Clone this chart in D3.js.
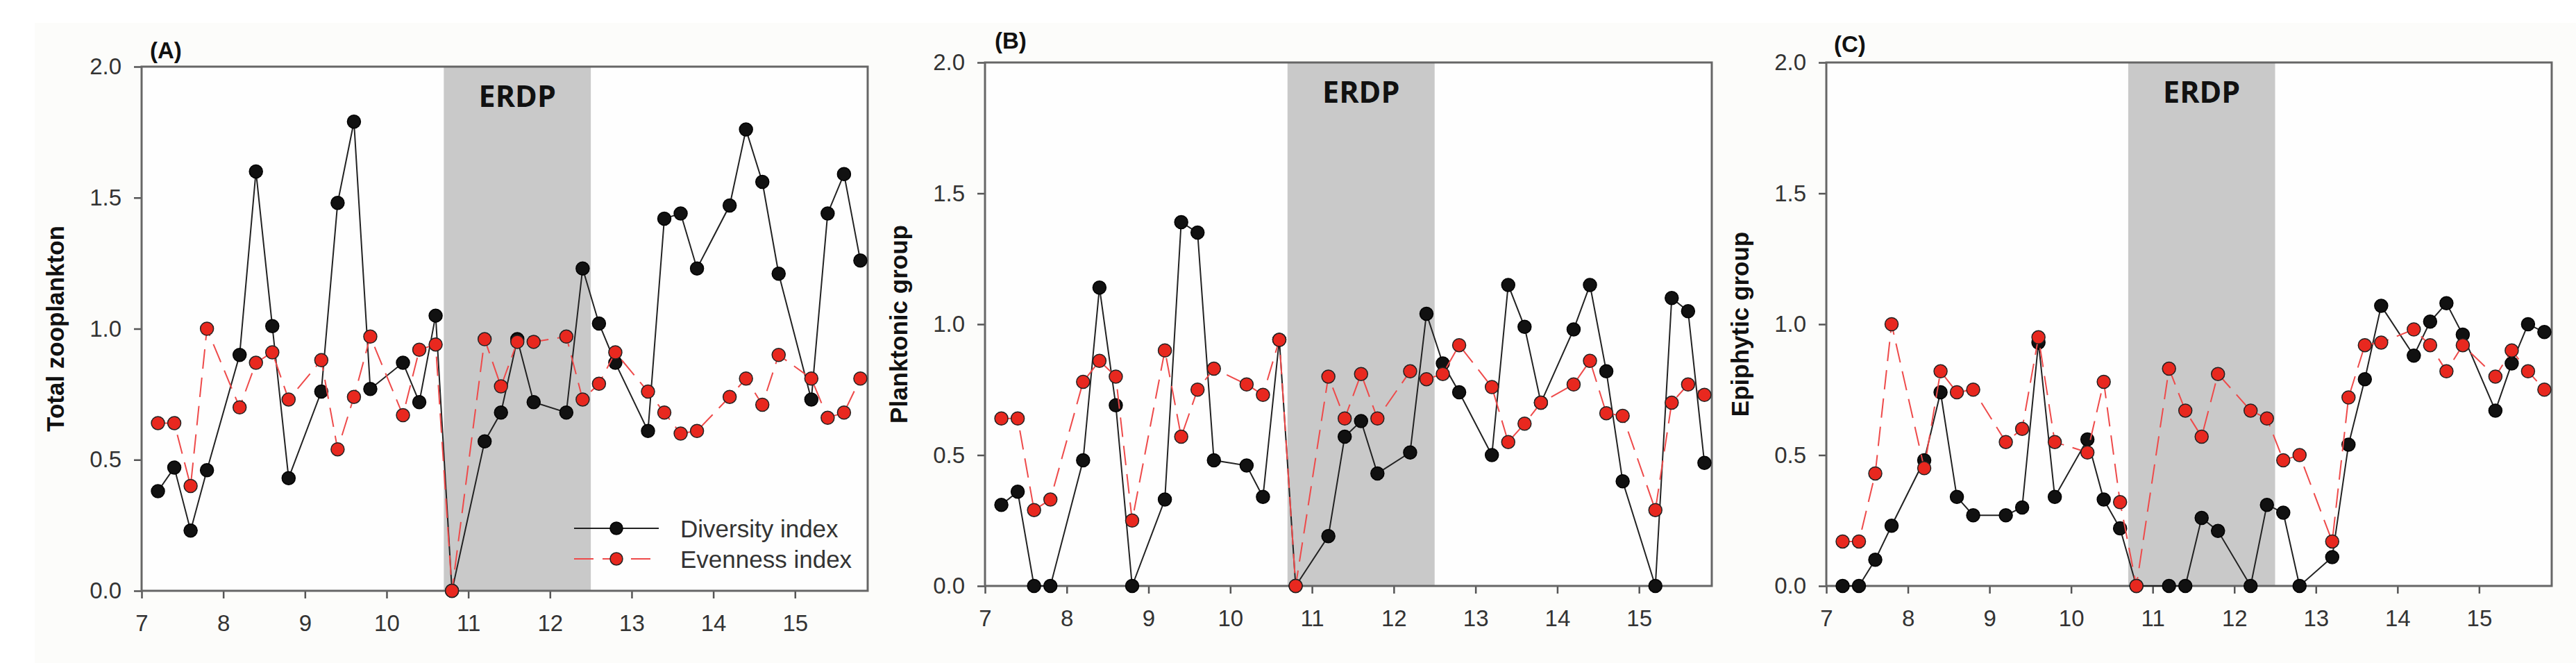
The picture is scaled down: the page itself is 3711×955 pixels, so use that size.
<!DOCTYPE html>
<html>
<head>
<meta charset="utf-8">
<script src="https://cdnjs.cloudflare.com/ajax/libs/d3/7.8.5/d3.min.js"></script>
<style>
  body { margin: 0; background: #fff; }
  text { font-family: "Liberation Sans", Arial, sans-serif; }
</style>
</head>
<body>
<script>
// sampling dates (month + week fraction)
var sampleX = [7.2, 7.4, 7.6, 7.8, 8.2, 8.4, 8.6, 8.8, 9.2, 9.4, 9.6, 9.8,
    10.2, 10.4, 10.6, 10.8, 11.2, 11.4, 11.6, 11.8, 12.2, 12.4, 12.6, 12.8,
    13.2, 13.4, 13.6, 13.8, 14.2, 14.4, 14.6, 14.8, 15.2, 15.4, 15.6, 15.8];

// (A) total zooplankton
var divA = [0.38, 0.47, 0.23, 0.46, 0.90, 1.60, 1.01, 0.43, 0.76, 1.48, 1.79, 0.77,
    0.87, 0.72, 1.05, 0.00, 0.57, 0.68, 0.96, 0.72, 0.68, 1.23, 1.02, 0.87,
    0.61, 1.42, 1.44, 1.23, 1.47, 1.76, 1.56, 1.21, 0.73, 1.44, 1.59, 1.26];
var evenA = [0.64, 0.64, 0.40, 1.00, 0.70, 0.87, 0.91, 0.73, 0.88, 0.54, 0.74, 0.97,
    0.67, 0.92, 0.94, 0.00, 0.96, 0.78, 0.95, 0.95, 0.97, 0.73, 0.79, 0.91,
    0.76, 0.68, 0.60, 0.61, 0.74, 0.81, 0.71, 0.90, 0.81, 0.66, 0.68, 0.81];
// (B) planktonic group
var divB = [0.31, 0.36, 0.00, 0.00, 0.48, 1.14, 0.69, 0.00, 0.33, 1.39, 1.35, 0.48,
    0.46, 0.34, 0.94, 0.00, 0.19, 0.57, 0.63, 0.43, 0.51, 1.04, 0.85, 0.74,
    0.50, 1.15, 0.99, 0.70, 0.98, 1.15, 0.82, 0.40, 0.00, 1.10, 1.05, 0.47];
var evenB = [0.64, 0.64, 0.29, 0.33, 0.78, 0.86, 0.80, 0.25, 0.90, 0.57, 0.75, 0.83,
    0.77, 0.73, 0.94, 0.00, 0.80, 0.64, 0.81, 0.64, 0.82, 0.79, 0.81, 0.92,
    0.76, 0.55, 0.62, 0.70, 0.77, 0.86, 0.66, 0.65, 0.29, 0.70, 0.77, 0.73];
// (C) epiphytic group
var divC = [0.00, 0.00, 0.10, 0.23, 0.48, 0.74, 0.34, 0.27, 0.27, 0.30, 0.93, 0.34,
    0.56, 0.33, 0.22, 0.00, 0.00, 0.00, 0.26, 0.21, 0.00, 0.31, 0.28, 0.00,
    0.11, 0.54, 0.79, 1.07, 0.88, 1.01, 1.08, 0.96, 0.67, 0.85, 1.00, 0.97];
var evenC = [0.17, 0.17, 0.43, 1.00, 0.45, 0.82, 0.74, 0.75, 0.55, 0.60, 0.95, 0.55,
    0.51, 0.78, 0.32, 0.00, 0.83, 0.67, 0.57, 0.81, 0.67, 0.64, 0.48, 0.50,
    0.17, 0.72, 0.92, 0.93, 0.98, 0.92, 0.82, 0.92, 0.80, 0.90, 0.82, 0.75];

var xTicks = [7, 8, 9, 10, 11, 12, 13, 14, 15];
var yTicks = [0, 0.5, 1.0, 1.5, 2.0];
var erdp = [10.7, 12.5];
var seriesNames = ["Diversity index", "Evenness index"];

var w = 3711, h = 955;
var red = "#e8281f";

// panel boxes (pixels)
var panels = [
    { tag: "(A)", ylab: "Total zooplankton", div: divA, even: evenA, left: 204, right: 1250, top: 96, bottom: 851, tagDx: 12, tagDy: -12, legend: true },
    { tag: "(B)", ylab: "Planktonic group", div: divB, even: evenB, left: 1419, right: 2466, top: 90, bottom: 844, tagDx: 14, tagDy: -20, legend: false },
    { tag: "(C)", ylab: "Epiphytic group", div: divC, even: evenC, left: 2631, right: 3676, top: 90, bottom: 844, tagDx: 11, tagDy: -15, legend: false }
];

var svg = d3.select("body")
    .append("svg")
    .attr("width", w)
    .attr("height", h);

svg.append("rect")
    .attr("x", 50).attr("y", 33)
    .attr("width", w - 50).attr("height", h - 33)
    .attr("fill", "#fcfcfa");

panels.forEach(function (p) {
    var xScale = d3.scaleLinear().domain([7, 15.89]).range([p.left, p.right]);
    var yScale = d3.scaleLinear().domain([0, 2]).range([p.bottom, p.top]);
    var g = svg.append("g");

    g.append("rect")
        .attr("x", p.left).attr("y", p.top)
        .attr("width", p.right - p.left).attr("height", p.bottom - p.top)
        .attr("fill", "#fefefe");

    // ERDP shading
    g.append("rect")
        .attr("x", xScale(erdp[0]))
        .attr("y", p.top)
        .attr("width", xScale(erdp[1]) - xScale(erdp[0]))
        .attr("height", p.bottom - p.top)
        .attr("fill", "#c9c9c9");
    g.append("text")
        .attr("x", (xScale(erdp[0]) + xScale(erdp[1])) / 2)
        .attr("y", p.top + 58)
        .attr("text-anchor", "middle")
        .style("font-family", "'Open Sans', sans-serif")
        .attr("font-weight", "bold")
        .attr("font-size", "43px")
        .attr("fill", "#111")
        .text("ERDP");

    // axes
    var xAxis = d3.axisBottom(xScale).tickValues(xTicks).tickSize(11).tickPadding(24).tickSizeOuter(0);
    var yAxis = d3.axisLeft(yScale).tickValues(yTicks).tickSize(11).tickPadding(18).tickSizeOuter(0)
        .tickFormat(d3.format(".1f"));
    var gx = g.append("g").attr("transform", "translate(0," + p.bottom + ")").call(xAxis);
    var gy = g.append("g").attr("transform", "translate(" + p.left + ",0)").call(yAxis);
    [gx, gy].forEach(function (a) {
        a.select(".domain").remove();
        a.selectAll(".tick line").attr("stroke", "#555").attr("stroke-width", 2.5);
        a.selectAll(".tick text")
            .attr("font-size", "33px")
            .attr("fill", "#333")
            .style("font-family", "'Liberation Sans', Arial, sans-serif");
    });

    // frame
    g.append("rect")
        .attr("x", p.left).attr("y", p.top)
        .attr("width", p.right - p.left).attr("height", p.bottom - p.top)
        .attr("fill", "none")
        .attr("stroke", "#666")
        .attr("stroke-width", 3);

    var line = d3.line()
        .x(function (d, i) { return xScale(sampleX[i]); })
        .y(function (d) { return yScale(d); });

    // diversity
    g.append("path")
        .datum(p.div)
        .attr("d", line)
        .attr("fill", "none")
        .attr("stroke", "#222")
        .attr("stroke-width", 2);
    g.selectAll("circle.div")
        .data(p.div)
        .enter()
        .append("circle")
        .attr("class", "div")
        .attr("cx", function (d, i) { return xScale(sampleX[i]); })
        .attr("cy", function (d) { return yScale(d); })
        .attr("r", 9.5)
        .attr("fill", "#111")
        .attr("stroke", "#000")
        .attr("stroke-width", 1.5);

    // evenness
    g.append("path")
        .datum(p.even)
        .attr("d", line)
        .attr("fill", "none")
        .attr("stroke", "#ee4a4a")
        .attr("stroke-width", 2)
        .attr("stroke-dasharray", "28,13");
    g.selectAll("circle.even")
        .data(p.even)
        .enter()
        .append("circle")
        .attr("class", "even")
        .attr("cx", function (d, i) { return xScale(sampleX[i]); })
        .attr("cy", function (d) { return yScale(d); })
        .attr("r", 9.5)
        .attr("fill", red)
        .attr("stroke", "#222")
        .attr("stroke-width", 1.5);

    // panel tag
    g.append("text")
        .attr("x", p.left + p.tagDx)
        .attr("y", p.top + p.tagDy)
        .attr("font-weight", "bold")
        .attr("font-size", "33px")
        .attr("fill", "#111")
        .text(p.tag);

    // y label
    g.append("text")
        .attr("transform", "translate(" + (p.left - 125) + "," + ((p.top + p.bottom) / 2) + ") rotate(-90)")
        .attr("text-anchor", "middle")
        .attr("dominant-baseline", "central")
        .attr("font-weight", "bold")
        .attr("font-size", "35px")
        .attr("fill", "#111")
        .text(p.ylab);

    if (p.legend) {
        var ly = [761, 805];
        var lg = g.append("g");
        lg.append("line")
            .attr("x1", 827).attr("x2", 949).attr("y1", ly[0]).attr("y2", ly[0])
            .attr("stroke", "#222").attr("stroke-width", 2);
        lg.append("circle")
            .attr("cx", 888).attr("cy", ly[0]).attr("r", 9)
            .attr("fill", "#111").attr("stroke", "#000").attr("stroke-width", 1.5);
        lg.append("line")
            .attr("x1", 827).attr("x2", 940).attr("y1", ly[1]).attr("y2", ly[1])
            .attr("stroke", "#ee4a4a").attr("stroke-width", 2)
            .attr("stroke-dasharray", "28,13");
        lg.append("circle")
            .attr("cx", 888).attr("cy", ly[1]).attr("r", 9)
            .attr("fill", red).attr("stroke", "#222").attr("stroke-width", 1.5);
        lg.selectAll("text")
            .data(seriesNames)
            .enter()
            .append("text")
            .attr("x", 980)
            .attr("y", function (d, i) { return ly[i]; })
            .attr("dominant-baseline", "central")
            .attr("font-size", "35px")
            .attr("fill", "#333")
            .text(function (d) { return d; });
    }
});
</script>
</body>
</html>
